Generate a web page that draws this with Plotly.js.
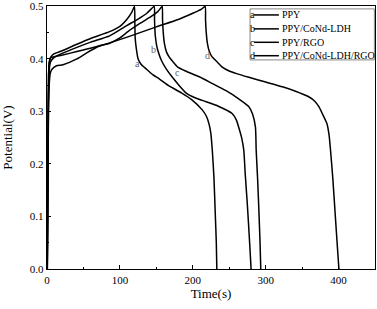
<!DOCTYPE html>
<html>
<head>
<meta charset="utf-8">
<script src="https://cdn.plot.ly/plotly-3.0.1.min.js"></script>
<style>
html,body{margin:0;padding:0;background:#fff;}
#chart{width:377px;height:309px;}
</style>
</head>
<body>
<div id="chart"></div>
<script>
// ---- data ----
const seriesNames = ["PPY", "PPY/CoNd-LDH", "PPY/RGO", "PPY/CoNd-LDH/RGO"];
const seriesLetters = ["a", "b", "c", "d"];

// Time (s) and potential (V) for each galvanostatic charge/discharge curve
const timeA = [0.3,0.8,1.2,1.6,2.2,3,5,10,20,41,60,86,100,110,116,120,
  120.5,121,122.5,125,129,136,145,154,168,185,198,213,219,222.5,224.6,226.8,229,231,232.3,233];
const potA  = [0,0.1,0.2,0.3,0.37,0.393,0.403,0.41,0.415,0.428,0.439,0.452,0.462,0.476,0.488,0.5,
  0.47,0.44,0.42,0.40,0.39,0.381,0.37,0.362,0.348,0.335,0.323,0.303,0.29,0.275,0.26,0.226,0.175,0.1,0.05,0];

const timeB = [0.4,0.9,1.4,1.9,2.6,3.5,5,10,20,41,60,86,110,125,137,147,
  147.5,148.5,150.5,153.5,157,164,172,181,191,200,213,235,254,260,263,267,270,272,275,278,280];
const potB  = [0,0.1,0.2,0.3,0.36,0.385,0.395,0.403,0.41,0.422,0.432,0.444,0.464,0.476,0.487,0.5,
  0.475,0.445,0.425,0.41,0.397,0.38,0.365,0.35,0.335,0.328,0.321,0.31,0.296,0.283,0.27,0.25,0.226,0.18,0.12,0.05,0];

const timeC = [0.5,1.0,1.5,2.0,3,4.4,6.6,13,22,41,55,64,73,86,100,111,128,142,152,158,
  158.5,159.5,161,164,168,172,179,190,209,227,245,262,277,282,286,287,289,291,292.3,293.3];
const potC  = [0,0.1,0.2,0.3,0.35,0.372,0.38,0.387,0.389,0.40,0.412,0.419,0.425,0.430,0.44,0.452,0.468,0.48,0.49,0.5,
  0.475,0.45,0.43,0.413,0.403,0.396,0.385,0.377,0.366,0.353,0.34,0.325,0.309,0.295,0.27,0.226,0.17,0.1,0.05,0];

const timeD = [0.3,0.8,1.2,1.6,2.2,3,5,20,41,80,111,150,180,200,212,217,
  217.5,218.5,220,222.5,226,233,240,250,260,277,300,323,340,359,367,373,378,384,387,389,392,395.6,398.5,400.5];
const potD  = [0,0.1,0.2,0.3,0.37,0.392,0.402,0.407,0.414,0.428,0.442,0.461,0.475,0.487,0.495,0.5,
  0.475,0.45,0.43,0.415,0.405,0.395,0.385,0.377,0.372,0.365,0.356,0.347,0.339,0.328,0.32,0.309,0.295,0.277,0.255,0.226,0.175,0.1,0.04,0];

// curve label anchor points (time, potential)
const labelTime = [124.7, 145.7, 179, 220.5];
const labelPot  = [0.392, 0.418, 0.375, 0.407];

// axis ticks
const xTicks = [0, 100, 200, 300, 400];
const yTicks = [0.0, 0.1, 0.2, 0.3, 0.4, 0.5];

// ---- chart ----
const serif = "'Liberation Serif', 'Times New Roman', serif";
const allTimes = [timeA, timeB, timeC, timeD];
const allPots = [potA, potB, potC, potD];

const traces = allTimes.map((t, i) => ({
  x: t, y: allPots[i], type: "scatter", mode: "lines",
  name: seriesNames[i],
  line: {color: "#000", width: 1.5, shape: "spline", smoothing: 0.5},
  showlegend: false, hoverinfo: "skip"
}));

const annotations = [];
const shapes = [];
// curve letters
labelTime.forEach((t, i) => annotations.push({
  x: t, y: labelPot[i], xref: "x", yref: "y", text: seriesLetters[i],
  showarrow: false, font: {family: serif, size: 10, color: "#666"}
}));

// legend box (drawn to match the compact reference legend)
const legL = 0.619, legR = 0.998, legT = 0.989, legB = 0.795;
shapes.push({type: "rect", xref: "paper", yref: "paper", x0: legL, x1: legR, y0: legB, y1: legT,
  line: {color: "#888", width: 1}, fillcolor: "rgba(0,0,0,0)"});
const rowY = [0.966, 0.913, 0.862, 0.811];
seriesNames.forEach((nm, i) => {
  shapes.push({type: "line", xref: "paper", yref: "paper", x0: 0.631, x1: 0.707, y0: rowY[i], y1: rowY[i],
    line: {color: "#000", width: 1.5}});
  annotations.push({x: 0.625, y: rowY[i], xref: "paper", yref: "paper", text: seriesLetters[i],
    showarrow: false, xanchor: "center", yanchor: "middle", font: {family: serif, size: 10, color: "#000"}});
  annotations.push({x: 0.709, y: rowY[i], xref: "paper", yref: "paper", text: nm,
    showarrow: false, xanchor: "left", yanchor: "middle", font: {family: serif, size: 10, color: "#000"}});
});

const layout = {
  width: 377, height: 309,
  margin: {l: 47, r: 2, t: 6, b: 40},
  paper_bgcolor: "#fff", plot_bgcolor: "#fff",
  font: {family: serif, size: 11, color: "#000"},
  xaxis: {
    range: [0, 450], tickvals: xTicks, ticks: "inside", ticklen: 4, tickwidth: 1, tickcolor: "#000",
    minor: {dtick: 50, ticks: "inside", ticklen: 2, tickcolor: "#000"},
    showline: true, linecolor: "#000", linewidth: 1.3, mirror: true,
    showgrid: false, zeroline: false,
    title: {text: "Time(s)", font: {family: serif, size: 13}, standoff: 4},
    tickfont: {family: serif, size: 11}
  },
  yaxis: {
    range: [0, 0.5008], tickvals: yTicks, tickformat: ".1f", ticks: "inside", ticklen: 4, tickwidth: 1, tickcolor: "#000",
    minor: {dtick: 0.05, ticks: "inside", ticklen: 2, tickcolor: "#000"},
    showline: true, linecolor: "#000", linewidth: 1.3, mirror: true,
    showgrid: false, zeroline: false,
    title: {text: "Potential(V)", font: {family: serif, size: 13}, standoff: 14},
    tickfont: {family: serif, size: 11}
  },
  showlegend: false,
  shapes: shapes,
  annotations: annotations
};

Plotly.newPlot("chart", traces, layout, {displayModeBar: false, staticPlot: true});
</script>
</body>
</html>
